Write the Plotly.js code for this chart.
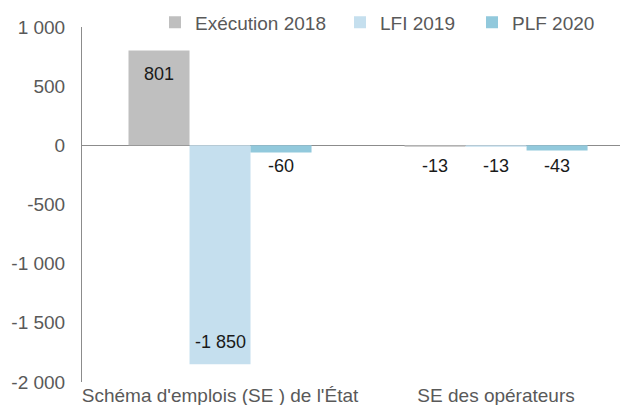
<!DOCTYPE html>
<html>
<head>
<meta charset="utf-8">
<script src="https://cdn.plot.ly/plotly-3.0.1.min.js"></script>
<style>html,body{margin:0;padding:0;background:#fff;}#chart{width:621px;height:405px;}</style>
</head>
<body>
<div id="chart"></div>
<script>
const categories = ["Schéma d'emplois (SE ) de l'État", "SE des opérateurs"];
const seriesNames = ["Exécution 2018", "LFI 2019", "PLF 2020"];
const execution2018 = [801, -13];
const lfi2019 = [-1850, -13];
const plf2020 = [-60, -43];
const tickValues = [-2000, -1500, -1000, -500, 0, 500, 1000];
const tickLabels = ["-2 000", "-1 500", "-1 000", "-500", "0", "500", "1 000"];

const colors = ["#bfbfbf", "#c5dfee", "#92c9dc"];
const allSeries = [execution2018, lfi2019, plf2020];
const legendIds = ["legend", "legend2", "legend3"];

function fmt(v) {
  const s = Math.abs(v).toString().replace(/\B(?=(\d{3})+(?!\d))/g, " ");
  return (v < 0 ? "-" : "") + s;
}

const bargap = 0.337;
const w = (1 - bargap) / 3;

const traces = allSeries.map((vals, k) => ({
  type: "bar",
  name: seriesNames[k],
  x: categories,
  y: vals,
  marker: {color: colors[k], line: {width: 0}},
  legend: legendIds[k],
  hoverinfo: "none"
}));

const annotations = [];
allSeries.forEach((vals, k) => {
  vals.forEach((v, i) => {
    const big = Math.abs(v) > 300;
    annotations.push({
      x: i + (k - 1) * w,
      xref: "x",
      y: big ? v : 0,
      yref: "y",
      text: fmt(v),
      showarrow: false,
      xanchor: "center",
      yanchor: "middle",
      yshift: big ? (v > 0 ? -23 : 22) : -21,
      font: {family: "Liberation Sans, Arial, sans-serif", size: 18, color: "#1a1a1a"}
    });
  });
});

function legendAt(px) {
  return {
    orientation: "h",
    x: (px - 82) / 538,
    xanchor: "left",
    y: 1.013,
    yanchor: "middle",
    bgcolor: "rgba(0,0,0,0)",
    borderwidth: 0,
    font: {family: "Liberation Sans, Arial, sans-serif", size: 19, color: "#595959"}
  };
}

const layout = {
  width: 621,
  height: 405,
  margin: {l: 82, r: 1, t: 27, b: 23},
  paper_bgcolor: "#fff",
  plot_bgcolor: "#fff",
  font: {family: "Liberation Sans, Arial, sans-serif", size: 19, color: "#595959"},
  barmode: "group",
  bargap: bargap,
  bargroupgap: 0,
  showlegend: true,
  legend: legendAt(195 - 40),
  legend2: legendAt(380 - 40),
  legend3: legendAt(512 - 40),
  xaxis: {
    type: "category",
    range: [-0.5, 1.449],
    showline: false,
    showgrid: false,
    zeroline: false,
    ticks: "",
    tickfont: {size: 19, color: "#595959"},
    automargin: false
  },
  yaxis: {
    range: [-2000, 1000],
    showline: true,
    linecolor: "#8c8c8c",
    linewidth: 1,
    showgrid: false,
    zeroline: true,
    zerolinecolor: "#8c8c8c",
    zerolinewidth: 1.5,
    tickmode: "array",
    tickvals: tickValues,
    ticktext: tickLabels,
    ticks: "",
    ticklabelstandoff: 12,
    tickfont: {size: 19, color: "#595959"},
    automargin: false
  },
  annotations: annotations
};

Plotly.newPlot("chart", traces, layout, {staticPlot: true, displayModeBar: false});
</script>
</body>
</html>
